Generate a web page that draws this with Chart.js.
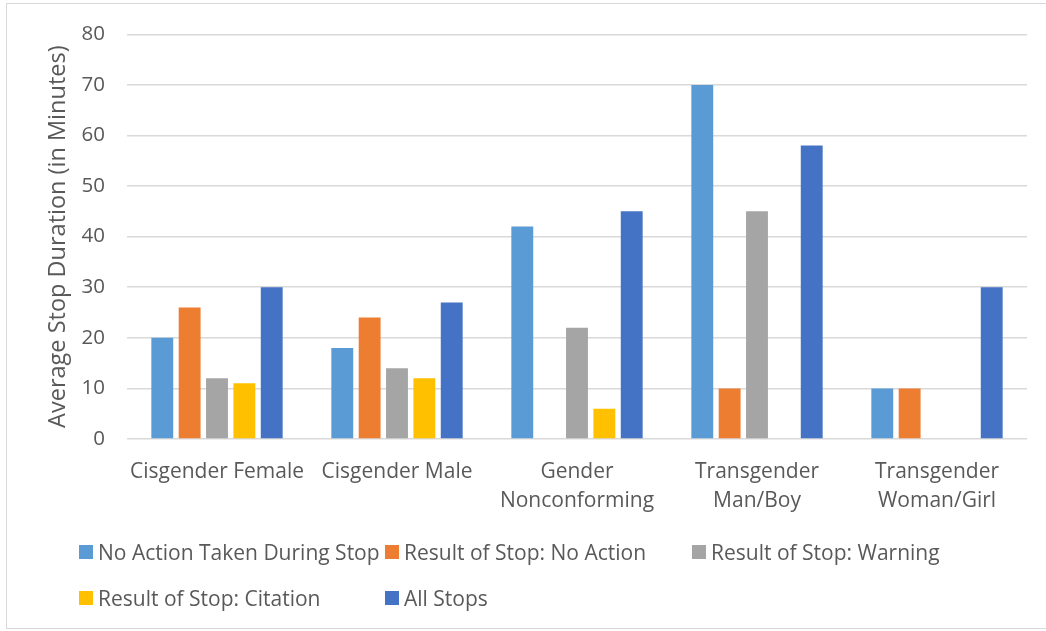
<!DOCTYPE html>
<html>
<head>
<meta charset="utf-8">
<script src="https://cdn.jsdelivr.net/npm/chart.js@4"></script>
<style>
  html, body { margin: 0; padding: 0; background: #fff; }
  #wrap { position: relative; width: 1046px; height: 631px; overflow: hidden; }
  #frame { position: absolute; left: 6px; top: 3px; width: 1050px; height: 626px; border: 1px solid #d9d9d9; box-sizing: border-box; }
  #chart { position: absolute; left: 0; top: 0; }
  #legend { position: absolute; left: 79px; top: 538px; display: grid;
    grid-template-columns: 306px 307px auto; row-gap: 18px;
    font-family: "Open Sans", Lato, sans-serif; font-size: 21px; color: #595959; }
  #legend .item { display: flex; align-items: center; height: 28px; white-space: nowrap; }
  #legend .box { flex: 0 0 auto; width: 14px; height: 14px; margin-right: 5px; }
</style>
</head>
<body>
<div id="wrap">
  <div id="frame"></div>
  <canvas id="chart" width="1046" height="631"></canvas>
  <div id="legend"></div>
</div>
<script>
// categories (multi-line labels as arrays)
const categories = [
  'Cisgender Female',
  'Cisgender Male',
  ['Gender', 'Nonconforming'],
  ['Transgender', 'Man/Boy'],
  ['Transgender', 'Woman/Girl']
];

const seriesNames = [
  'No Action Taken During Stop',
  'Result of Stop: No Action',
  'Result of Stop: Warning',
  'Result of Stop: Citation',
  'All Stops'
];

// values (null = no bar)
const noActionTaken = [20, 18, 42, 70, 10];
const resultNoAction = [26, 24, null, 10, 10];
const resultWarning = [12, 14, 22, 45, null];
const resultCitation = [11, 12, 6, null, null];
const allStops = [30, 27, 45, 58, 30];

const yTicks = [0, 10, 20, 30, 40, 50, 60, 70, 80];

const colors = ['#5B9BD5', '#ED7D31', '#A5A5A5', '#FFC000', '#4472C4'];
const seriesValues = [noActionTaken, resultNoAction, resultWarning, resultCitation, allStops];

const textColor = '#595959';
const fontFamily = '"Open Sans", Lato, sans-serif';

// HTML legend laid out in Excel-like columns
const htmlLegend = {
  id: 'htmlLegend',
  afterUpdate(chart) {
    const box = document.getElementById('legend');
    box.innerHTML = '';
    chart.data.datasets.forEach(ds => {
      const item = document.createElement('div');
      item.className = 'item';
      const sw = document.createElement('span');
      sw.className = 'box';
      sw.style.background = ds.backgroundColor;
      const label = document.createElement('span');
      label.textContent = ds.label;
      item.appendChild(sw);
      item.appendChild(label);
      box.appendChild(item);
    });
  }
};

const ctx = document.getElementById('chart');
new Chart(ctx, {
  type: 'bar',
  data: {
    labels: categories,
    datasets: seriesNames.map((name, i) => ({
      label: name,
      data: seriesValues[i],
      backgroundColor: colors[i],
      borderWidth: 0,
      categoryPercentage: 0.76,
      barPercentage: 0.8
    }))
  },
  options: {
    responsive: false,
    animation: false,
    layout: { padding: { top: 31, right: 19, left: 0, bottom: 0 } },
    plugins: {
      legend: { display: false },
      tooltip: { enabled: false }
    },
    scales: {
      x: {
        grid: { display: false },
        border: { display: false },
        ticks: {
          color: textColor,
          font: { family: fontFamily, size: 21, lineHeight: 1.38 },
          padding: 11,
          maxRotation: 0,
          autoSkip: false
        },
        afterFit(scale) { scale.height = 192; }
      },
      y: {
        min: 0,
        max: 80,
        afterBuildTicks(scale) { scale.ticks = yTicks.map(v => ({ value: v })); },
        grid: { color: '#D9D9D9', lineWidth: 1.5, drawTicks: false },
        border: { display: false },
        ticks: {
          color: textColor,
          font: { family: fontFamily, size: 20.5 },
          padding: 22
        },
        title: {
          display: true,
          text: 'Average Stop Duration (in Minutes)',
          color: textColor,
          font: { family: fontFamily, size: 23.5 },
          padding: { top: 44, bottom: 0 }
        },
        afterFit(scale) { scale.width = 127; }
      }
    }
  },
  plugins: [htmlLegend]
});
</script>
</body>
</html>
